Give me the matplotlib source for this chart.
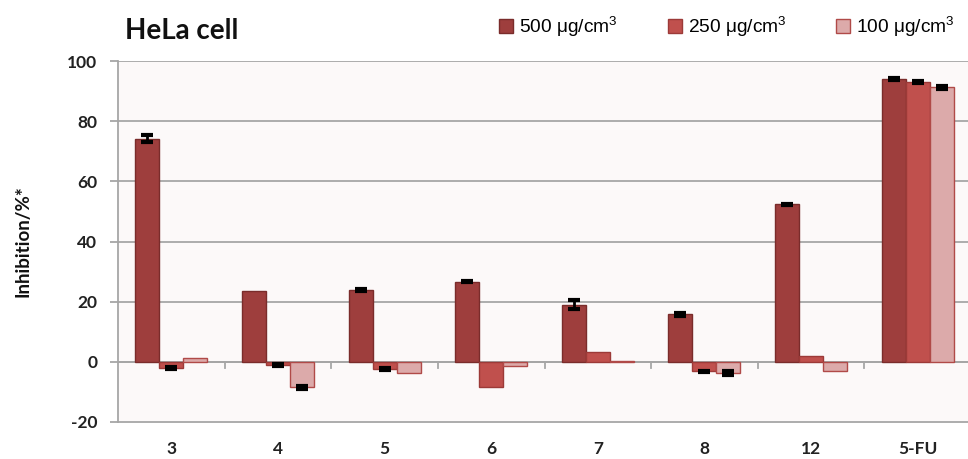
import matplotlib
matplotlib.use("Agg")
import matplotlib.pyplot as plt
import numpy as np

plt.rcParams["mathtext.fontset"] = "custom"
plt.rcParams["mathtext.rm"] = "Liberation Sans"
plt.rcParams["mathtext.it"] = "Liberation Sans"
plt.rcParams["mathtext.default"] = "regular"

categories = ["3", "4", "5", "6", "7", "8", "12", "5-FU"]
series_names = ["500 μg/cm$^{3}$", "250 μg/cm$^{3}$", "100 μg/cm$^{3}$"]
v500 = [74.2, 23.5, 24.0, 26.7, 19.0, 15.8, 52.3, 93.9]
v250 = [-2.0, -1.0, -2.3, -8.2, 3.2, -3.2, 1.8, 93.0]
v100 = [1.2, -8.5, -3.8, -1.5, 0.4, -3.8, -3.0, 91.2]
e500 = [1.2, 0.0, 0.3, 0.3, 1.5, 0.4, 0.3, 0.3]
e250 = [0.3, 0.3, 0.4, 0.0, 0.0, 0.3, 0.0, 0.3]
e100 = [0.0, 0.4, 0.0, 0.0, 0.0, 0.7, 0.0, 0.4]
yticks = [-20, 0, 20, 40, 60, 80, 100]

fills = ["#9e3e3d", "#c0504d", "#dcaaaa"]
edges = ["#7a2c2b", "#9c3a38", "#b04a48"]

fig = plt.figure(figsize=(9.68, 4.59), dpi=100)
ax = fig.add_axes([118/968, 1-422/459, 853/968, 361/459])
ax.set_facecolor("#fcf9f9")

x = np.arange(len(categories))
w = 0.225
vals = [v500, v250, v100]
errs = [e500, e250, e100]
for i, (v, e) in enumerate(zip(vals, errs)):
    xs = x + (i-1)*w
    ax.bar(xs, v, width=w, color=fills[i], edgecolor=edges[i], linewidth=1.0,
           label=series_names[i], zorder=3)
    e = np.array(e); v = np.array(v)
    m = e > 0
    ax.errorbar(xs[m], v[m], yerr=e[m], fmt="none", ecolor="black",
                elinewidth=2, capsize=4.5, capthick=3, zorder=4)

ax.set_xlim(-0.5, len(categories)-0.5)
ax.set_ylim(-20, 100)
ax.set_yticks(yticks)
ax.set_yticklabels([str(t) for t in yticks], fontfamily="Lato",
                   fontweight="bold", fontsize=12.5, color="#222222")
for t in yticks[1:]:
    ax.axhline(t, color="#a6a6a6", linewidth=1.3, zorder=1)
ax.axhline(0, color="#a6a6a6", linewidth=1.3, zorder=2)
for b in np.arange(0.5, len(categories)-0.5, 1.0):
    ax.plot([b, b], [20/120, 20/120 - 0.016], color="#a6a6a6", linewidth=1.3,
            transform=ax.get_xaxis_transform(), clip_on=False, zorder=2)

ax.set_xticks(x)
ax.set_xticklabels(categories, fontfamily="Lato", fontweight="bold",
                   fontsize=12.5, color="#222222")
ax.tick_params(axis="x", length=0, pad=14)
ax.tick_params(axis="y", length=6, width=1.3, color="#a6a6a6", pad=9)

for s in ["top", "right"]:
    ax.spines[s].set_visible(False)
for s in ["left", "bottom"]:
    ax.spines[s].set_color("#a6a6a6")
    ax.spines[s].set_linewidth(1.3)

ax.set_ylabel("Inhibition/%*", fontfamily="Lato", fontweight="bold",
              fontsize=13.5, color="#111111")
ax.yaxis.set_label_coords(-0.101, 0.5)

fig.text(125/968, 1-31/459, "HeLa cell", fontfamily="Lato", fontweight="bold",
         fontsize=20, va="center", ha="left", color="#111111")

leg = ax.legend(loc="center left", bbox_to_anchor=(499/968, 1-27/459),
                bbox_transform=fig.transFigure, ncol=3, frameon=False,
                prop={"family": "Liberation Sans", "size": 13.8},
                handlelength=0.73, handleheight=0.73, handletextpad=0.32,
                columnspacing=2.6, borderaxespad=0, borderpad=0)

fig.savefig("out.png", dpi=100, facecolor="white")
